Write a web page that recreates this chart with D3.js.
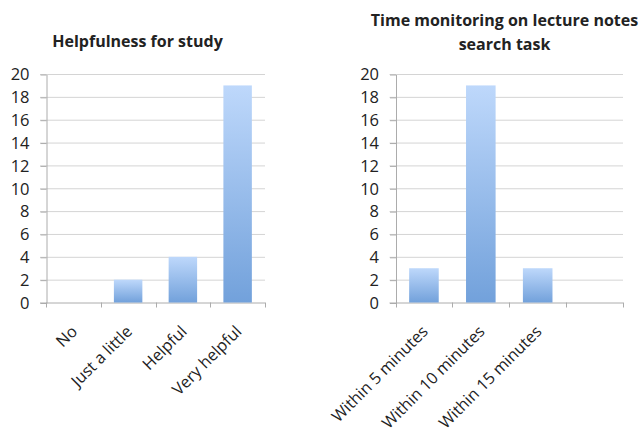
<!DOCTYPE html>
<html lang="en">
<head>
<meta charset="UTF-8">
<title>Helpfulness and time monitoring</title>
<script src="https://d3js.org/d3.v7.min.js"></script>
<style>
    body { margin: 0; background: #fff; }
    text { font-family: "Open Sans", sans-serif; fill: #222; }
    .title { font-weight: bold; font-size: 16px; }
    .grid line { stroke: #d4d4d4; }
    .axis path, .axis line { stroke: #acacac; }
</style>
</head>
<body>
<svg width="641" height="434"></svg>
<script>
    // chart 1
    const helpCats = ["No", "Just a little", "Helpful", "Very helpful"];
    const helpVals = [0, 2, 4, 19];
    // chart 2
    const timeCats = ["Within 5 minutes", "Within 10 minutes", "Within 15 minutes", ""];
    const timeVals = [3, 19, 3, 0];
    const yTicks = [0, 2, 4, 6, 8, 10, 12, 14, 16, 18, 20];

    const svg = d3.select("svg");

    // per-bar vertical gradient, light on top
    const grad = svg.append("defs").append("linearGradient")
        .attr("id", "barGrad")
        .attr("x1", 0).attr("y1", 0).attr("x2", 0).attr("y2", 1);
    grad.append("stop").attr("offset", "0%").attr("stop-color", "#bed8fb");
    grad.append("stop").attr("offset", "100%").attr("stop-color", "#72a1db");

    function drawChart(opts) {
        const g = svg.append("g");

        const x = d3.scaleBand()
            .domain(opts.cats.map((c, i) => i))
            .range([opts.left, opts.right])
            .paddingInner(0).paddingOuter(0);
        const y = d3.scaleLinear().domain([0, 20]).range([302.5, 74]);

        // gridlines with short outer ticks
        g.append("g")
            .attr("class", "grid")
            .selectAll("line")
            .data(yTicks.filter(d => d > 0))
            .join("line")
            .attr("x1", opts.left - 6)
            .attr("x2", opts.right)
            .attr("y1", d => y(d) + 0.5)
            .attr("y2", d => y(d) + 0.5);

        // y axis
        const yAxis = g.append("g")
            .attr("class", "axis")
            .attr("transform", `translate(${opts.left + 0.5},0.5)`)
            .call(d3.axisLeft(y).tickValues(yTicks).tickSize(6).tickSizeOuter(0).tickPadding(11));
        yAxis.selectAll("text").style("font-size", "16.5px").attr("fill", "#222");

        // x axis with ticks at category boundaries
        const xa = g.append("g").attr("class", "axis");
        xa.append("line")
            .attr("x1", opts.left - 6).attr("x2", opts.right)
            .attr("y1", y(0) + 0.5).attr("y2", y(0) + 0.5);
        xa.selectAll(".tk")
            .data(d3.range(opts.cats.length + 1))
            .join("line")
            .attr("class", "tk")
            .attr("x1", i => Math.round(opts.left + i * x.bandwidth()) + 0.5)
            .attr("x2", i => Math.round(opts.left + i * x.bandwidth()) + 0.5)
            .attr("y1", y(0))
            .attr("y2", y(0) + 5);

        // bars
        const bw = x.bandwidth() * 0.52;
        g.selectAll(".bar")
            .data(opts.vals)
            .join("rect")
            .attr("class", "bar")
            .attr("x", (d, i) => x(i) + (x.bandwidth() - bw) / 2)
            .attr("y", d => y(d))
            .attr("width", bw)
            .attr("height", d => y(0) - y(d))
            .attr("fill", "url(#barGrad)");

        // rotated category labels
        g.selectAll(".xl")
            .data(opts.cats)
            .join("text")
            .attr("class", "xl")
            .attr("text-anchor", "end")
            .attr("fill", "#333")
            .style("font-size", "16.2px")
            .attr("transform", (d, i) =>
                `translate(${x(i) + x.bandwidth() / 2 + 5},${y(0) + 30}) rotate(-45)`)
            .text(d => d);

        // title
        g.selectAll(".title")
            .data(opts.title)
            .join("text")
            .attr("class", "title")
            .attr("text-anchor", "middle")
            .attr("x", opts.titleX)
            .attr("y", (d, i) => opts.titleY + i * 24)
            .text(d => d);
    }

    drawChart({
        cats: helpCats, vals: helpVals,
        left: 46, right: 265,
        title: ["Helpfulness for study"], titleX: 137.5, titleY: 47
    });
    drawChart({
        cats: timeCats, vals: timeVals,
        left: 395.5, right: 623,
        title: ["Time monitoring on lecture notes", "search task"], titleX: 504.5, titleY: 26
    });
</script>
</body>
</html>
